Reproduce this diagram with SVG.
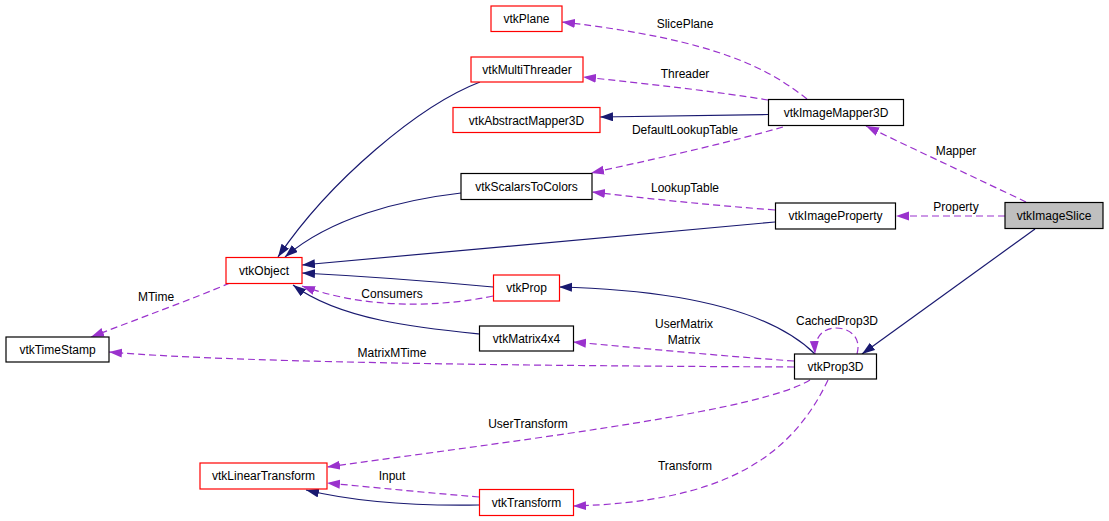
<svg xmlns="http://www.w3.org/2000/svg" width="1109" height="521" viewBox="0 0 1109 521">
<defs>
<style>
.n rect{fill:#fff;stroke:#000;stroke-width:1.2}
.n.r rect{stroke:#ff0000}
.n.g rect{fill:#bfbfbf}
text{font-family:"Liberation Sans",Arial,sans-serif;font-size:12px;fill:#000;text-anchor:middle}
.e path{fill:none;stroke-width:1.2}
.inh{stroke:#191970}
.use{stroke:#9a32cd;stroke-dasharray:7,4}
</style>
<marker id="an" markerUnits="userSpaceOnUse" markerWidth="14" markerHeight="10" refX="13" refY="4.5" orient="auto"><path d="M0,0 L13,4.5 L0,9 z" fill="#191970"/></marker>
<marker id="ap" markerUnits="userSpaceOnUse" markerWidth="14" markerHeight="10" refX="13" refY="4.5" orient="auto"><path d="M0,0 L13,4.5 L0,9 z" fill="#9a32cd"/></marker>
</defs>
<rect width="1109" height="521" fill="#fff"/>
<g id="connectors" class="e">
<path class="inh" marker-end="url(#an)" d="M1035,229 L862,354"/>
<path class="use" marker-end="url(#ap)" d="M1026,202 C980,180 920,152 866,126"/>
<path class="use" marker-end="url(#ap)" d="M1005,216 L896,216"/>
<path class="use" marker-end="url(#ap)" d="M807,99 C770,70 720,40 562,22"/>
<path class="use" marker-end="url(#ap)" d="M768,100 C720,92 650,84 583,77"/>
<path class="inh" marker-end="url(#an)" d="M768,114.5 L600,117"/>
<path class="use" marker-end="url(#ap)" d="M783,127 C720,145 650,160 591,173"/>
<path class="use" marker-end="url(#ap)" d="M775,210 C710,205 650,199 592,192"/>
<path class="inh" marker-end="url(#an)" d="M775,222 L302,265"/>
<path class="inh" marker-end="url(#an)" d="M461,193 C400,200 330,218 285,257"/>
<path class="inh" marker-end="url(#an)" d="M480,82 C420,105 330,180 278,257"/>
<path class="inh" marker-end="url(#an)" d="M493,287 C440,282 360,276 302,273"/>
<path class="use" marker-end="url(#ap)" d="M493,296 C460,303 380,314 302,286"/>
<path class="inh" marker-end="url(#an)" d="M479,334 C420,328 340,320 293,285"/>
<path class="inh" marker-end="url(#an)" d="M815,354 C770,310 680,290 559,287"/>
<path class="use" marker-end="url(#ap)" d="M794,361 C720,356 640,348 573,342"/>
<path class="use" marker-end="url(#ap)" d="M794,367 C600,366 250,364 109,352"/>
<path class="use" marker-end="url(#ap)" d="M230,283 C190,300 140,318 91,337"/>
<path class="use" marker-end="url(#ap)" d="M857,354 C862,336 848,328 836,328 C824,328 814,336 815,354"/>
<path class="use" marker-end="url(#ap)" d="M810,380 C760,410 560,435 327,467"/>
<path class="use" marker-end="url(#ap)" d="M828,380 C790,460 720,502 573,506"/>
<path class="use" marker-end="url(#ap)" d="M479,497 C430,493 380,488 327,483"/>
<path class="inh" marker-end="url(#an)" d="M479,505 C420,506 360,503 306,490"/>
</g>
<g id="labels">
<text x="685" y="28">SlicePlane</text>
<text x="685" y="78">Threader</text>
<text x="685" y="134">DefaultLookupTable</text>
<text x="685" y="192">LookupTable</text>
<text x="956" y="155">Mapper</text>
<text x="956" y="211">Property</text>
<text x="156" y="301">MTime</text>
<text x="392" y="298">Consumers</text>
<text x="392" y="357">MatrixMTime</text>
<text x="684" y="328">UserMatrix</text>
<text x="684" y="344">Matrix</text>
<text x="837" y="325">CachedProp3D</text>
<text x="528" y="428">UserTransform</text>
<text x="392" y="480">Input</text>
<text x="685" y="470">Transform</text>
</g>
<g id="vtkImageSlice" class="n g"><rect x="1005" y="202.5" width="98" height="26"/><text x="1054" y="220">vtkImageSlice</text></g>
<g id="vtkProp3D" class="n"><rect x="794.5" y="354" width="82" height="25"/><text x="835.5" y="371">vtkProp3D</text></g>
<g id="vtkImageMapper3D" class="n"><rect x="768.5" y="99.5" width="135" height="26"/><text x="836" y="117">vtkImageMapper3D</text></g>
<g id="vtkImageProperty" class="n"><rect x="775.5" y="203" width="120" height="26"/><text x="835.5" y="220">vtkImageProperty</text></g>
<g id="vtkPlane" class="n r"><rect x="491" y="6" width="71" height="25.5"/><text x="526.5" y="23">vtkPlane</text></g>
<g id="vtkMultiThreader" class="n r"><rect x="471" y="57" width="112" height="25"/><text x="527" y="74">vtkMultiThreader</text></g>
<g id="vtkAbstractMapper3D" class="n r"><rect x="453" y="107.5" width="147" height="25"/><text x="526.5" y="124.5">vtkAbstractMapper3D</text></g>
<g id="vtkScalarsToColors" class="n"><rect x="461" y="173.5" width="131" height="26"/><text x="526.5" y="191">vtkScalarsToColors</text></g>
<g id="vtkProp" class="n r"><rect x="493.5" y="275" width="66" height="26"/><text x="526.5" y="292">vtkProp</text></g>
<g id="vtkMatrix4x4" class="n"><rect x="479.5" y="326" width="94" height="25"/><text x="526.5" y="343">vtkMatrix4x4</text></g>
<g id="vtkObject" class="n r"><rect x="226" y="257.5" width="76" height="26"/><text x="264" y="275">vtkObject</text></g>
<g id="vtkTimeStamp" class="n"><rect x="6" y="337" width="103" height="25"/><text x="57.5" y="354">vtkTimeStamp</text></g>
<g id="vtkLinearTransform" class="n r"><rect x="200" y="463" width="127" height="26"/><text x="263.5" y="480">vtkLinearTransform</text></g>
<g id="vtkTransform" class="n r"><rect x="479.5" y="489.5" width="94" height="26"/><text x="526.5" y="507">vtkTransform</text></g>
</svg>
